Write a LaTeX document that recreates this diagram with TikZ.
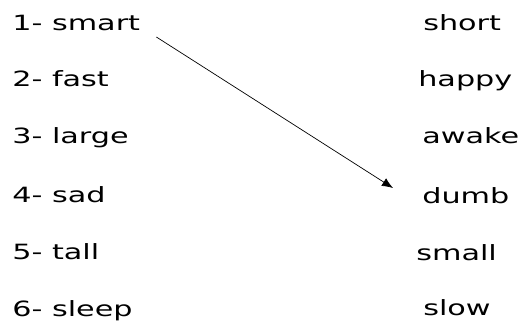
\documentclass[tikz,border=0pt]{standalone}
\usepackage{fontspec}
\setmainfont{DejaVu Sans}
\usetikzlibrary{arrows.meta}

\begin{document}
\begin{tikzpicture}[x=1pt,y=-1pt,every node/.style={inner sep=0pt,anchor=base west,xscale=1.44,font=\fontsize{21}{24}\selectfont}]
   \useasboundingbox (0,0) rectangle (518,322);
   \node (l1) at (12,30)  {1- smart};
   \node (l2) at (12,86)  {2- fast};
   \node (l3) at (12,143) {3- large};
   \node (l4) at (12,202) {4- sad};
   \node (l5) at (12,259) {5- tall};
   \node (l6) at (12,316) {6- sleep};
   \node (r1) at (423,30)  {short};
   \node (r2) at (418,86)  {happy};
   \node (r3) at (422,143) {awake};
   \node (r4) at (422,203) {dumb};
   \node (r5) at (416,260) {small};
   \node (r6) at (423,315) {slow};
   \coordinate (a1) at ([shift={(16pt,-7pt)}]l1.base east);
   \coordinate (a4) at ([shift={(-29pt,15pt)}]r4.base west);
   \draw[line width=0.7pt,-{Latex[length=11pt,width=9pt]}] (a1) -- (a4);
  \end{tikzpicture}
\end{document}
